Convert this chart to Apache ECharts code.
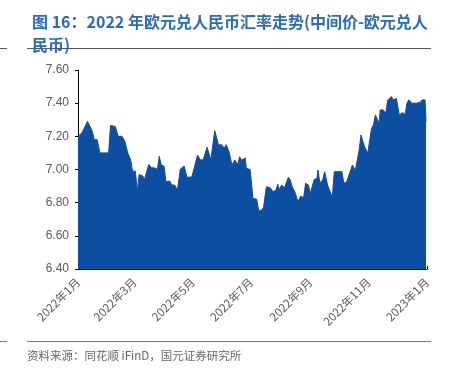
<!DOCTYPE html>
<html><head><meta charset="utf-8">
<script src="https://cdn.jsdelivr.net/npm/echarts@6/dist/echarts.min.js"></script>
<style>html,body{margin:0;padding:0;background:#fff}#c{width:450px;height:375px}</style>
</head><body><div id="c"></div>
<script>
const titleText = '图 16：2022 年欧元兑人民币汇率走势(中间价-欧元兑人\n民币)';
const sourceText = '资料来源：同花顺 iFinD，国元证券研究所';
const yTicks = [6.40, 6.60, 6.80, 7.00, 7.20, 7.40, 7.60];
const xTickDates = ['2022-01-01','2022-03-01','2022-05-01','2022-07-01','2022-09-01','2022-11-01','2023-01-01'];
const dates = [
'2022-01-01','2022-01-05','2022-01-11','2022-01-16','2022-01-18','2022-01-21','2022-01-24','2022-02-02','2022-02-04','2022-02-09',
'2022-02-12','2022-02-16','2022-02-19','2022-02-22','2022-02-25','2022-02-27','2022-03-02','2022-03-04','2022-03-06','2022-03-10',
'2022-03-11','2022-03-14','2022-03-16','2022-03-18','2022-03-19','2022-03-22','2022-03-25','2022-03-27','2022-03-29','2022-04-01',
'2022-04-03','2022-04-07','2022-04-09','2022-04-12','2022-04-15','2022-04-18','2022-04-22','2022-04-25','2022-04-30','2022-05-02',
'2022-05-06','2022-05-09','2022-05-12','2022-05-16','2022-05-18','2022-05-20','2022-05-22','2022-05-24','2022-05-28','2022-05-31',
'2022-06-03','2022-06-05','2022-06-08','2022-06-11','2022-06-12','2022-06-14','2022-06-17','2022-06-19','2022-06-21','2022-06-25',
'2022-06-26','2022-06-30','2022-07-03','2022-07-07','2022-07-09','2022-07-12','2022-07-14','2022-07-17','2022-07-19','2022-07-21',
'2022-07-24','2022-07-27','2022-07-29','2022-07-30','2022-08-02','2022-08-05','2022-08-09','2022-08-11','2022-08-13','2022-08-16',
'2022-08-19','2022-08-22','2022-08-25','2022-08-27','2022-08-30','2022-09-01','2022-09-05','2022-09-08','2022-09-09','2022-09-11',
'2022-09-14','2022-09-16','2022-09-19','2022-09-21','2022-09-24','2022-09-26','2022-10-04','2022-10-06','2022-10-09','2022-10-11',
'2022-10-13','2022-10-15','2022-10-18','2022-10-20','2022-10-22','2022-10-24','2022-10-26','2022-10-28','2022-10-31','2022-11-02',
'2022-11-04','2022-11-06','2022-11-08','2022-11-10','2022-11-12','2022-11-13','2022-11-16','2022-11-19','2022-11-21','2022-11-23',
'2022-11-25','2022-11-27','2022-11-30','2022-12-01','2022-12-03','2022-12-05','2022-12-07','2022-12-09','2022-12-11','2022-12-13',
'2022-12-16','2022-12-18','2022-12-21','2022-12-25','2022-12-27','2022-12-30','2022-12-31'
];
const rates = [
7.20,7.22,7.29,7.23,7.18,7.18,7.10,7.10,7.265,7.26,
7.20,7.20,7.17,7.10,7.06,6.99,6.99,6.87,6.97,6.96,
6.93,6.99,7.03,7.03,7.01,7.01,7.00,7.08,7.027,7.02,
6.926,6.93,6.906,6.906,6.876,7.001,7.021,6.953,6.955,6.997,
7.087,7.057,7.06,7.134,7.134,7.057,7.148,7.234,7.148,7.15,
7.13,7.15,7.107,7.027,7.02,7.057,7.03,7.077,7.057,7.07,
7.007,7.00,6.826,6.82,6.751,6.755,6.77,6.896,6.90,6.89,
6.866,6.875,6.912,6.876,6.906,6.89,6.953,6.937,6.896,6.862,
6.806,6.84,6.83,6.917,6.906,6.856,6.94,6.946,6.997,6.917,
6.94,6.987,6.906,6.90,6.832,6.987,6.987,6.917,6.926,6.96,
6.957,7.027,6.993,6.997,7.117,7.208,7.168,7.134,7.098,7.098,
7.248,7.268,7.329,7.329,7.278,7.359,7.359,7.343,7.419,7.419,
7.439,7.419,7.429,7.42,7.329,7.323,7.343,7.329,7.399,7.42,
7.40,7.406,7.40,7.406,7.42,7.419,7.29
];

function ts(s){const p=s.split('-').map(Number);return Date.UTC(p[0],p[1]-1,p[2]);}
const seriesData = dates.map((d,i)=>[ts(d), rates[i]]);
const xTicks = xTickDates.map(ts);

const chart = echarts.init(document.getElementById('c'), null, {renderer:'canvas'});
chart.setOption({
  animation:false,
  backgroundColor:'#fff',
  title:{
    text:titleText, left:27, top:5,
    textStyle:{color:'#2b6cb4', fontSize:16, fontWeight:'bold', fontFamily:'Noto Sans CJK SC', lineHeight:23}
  },
  graphic:[
    {type:'line', shape:{x1:27,y1:48.5,x2:431,y2:48.5}, style:{stroke:'#555',lineWidth:1}},
    {type:'line', shape:{x1:0,y1:48.5,x2:7,y2:48.5}, style:{stroke:'#555',lineWidth:1}},
    {type:'line', shape:{x1:27,y1:341.5,x2:431,y2:341.5}, style:{stroke:'#777',lineWidth:1}},
    {type:'line', shape:{x1:0,y1:341.5,x2:7,y2:341.5}, style:{stroke:'#777',lineWidth:1}},
    {type:'text', left:27, top:350, style:{text:sourceText, fill:'#666', font:'11.5px "Noto Sans CJK SC"'}}
  ],
  grid:{left:78, right:23, top:70, bottom:106},
  xAxis:{
    type:'value',
    min:xTicks[0], max:xTicks[xTicks.length-1],
    axisLine:{lineStyle:{color:'#000',width:1}},
    axisTick:{show:true, inside:true, length:3, customValues:xTicks, lineStyle:{color:'#000'}},
    axisLabel:{
      customValues:xTicks, rotate:45, color:'#595959', fontSize:11.5, margin:11,
      fontFamily:'Noto Sans CJK SC', showMinLabel:true, showMaxLabel:true,
      formatter:function(v){const d=new Date(v);return d.getUTCFullYear()+'年'+(d.getUTCMonth()+1)+'月';}
    },
    splitLine:{show:false}
  },
  yAxis:{
    type:'value', min:yTicks[0], max:yTicks[yTicks.length-1], interval:0.2,
    axisLine:{show:true, lineStyle:{color:'#000',width:1}},
    axisTick:{show:true, length:3, lineStyle:{color:'#000'}},
    axisLabel:{color:'#595959', fontSize:12, margin:9, fontFamily:'Liberation Sans',
      formatter:function(v){return v.toFixed(2);}},
    splitLine:{show:false}
  },
  series:[{
    type:'line', data:seriesData, symbol:'none',
    lineStyle:{color:'#0c4ea2', width:1},
    areaStyle:{color:'#0c4ea2', opacity:1, origin:'start'}
  }]
});
</script></body></html>
